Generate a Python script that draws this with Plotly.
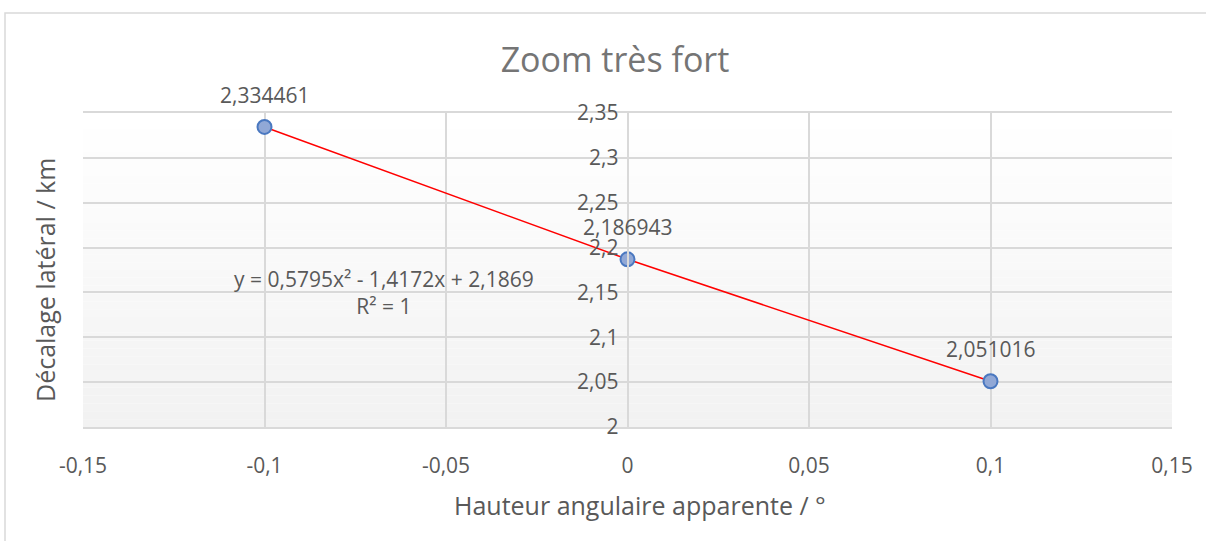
import plotly.graph_objects as go

# --- Data ---
hauteur = [-0.1, 0.0, 0.1]
decalage = [2.334461, 2.186943, 2.051016]
point_labels = ["2,334461", "2,186943", "2,051016"]

x_ticks = [-0.15, -0.1, -0.05, 0, 0.05, 0.1, 0.15]
x_tick_labels = ["-0,15", "-0,1", "-0,05", "0", "0,05", "0,1", "0,15"]
y_ticks = [2, 2.05, 2.1, 2.15, 2.2, 2.25, 2.3, 2.35]
y_tick_labels = ["2", "2,05", "2,1", "2,15", "2,2", "2,25", "2,3", "2,35"]

equation_text = "y = 0,5795x² - 1,4172x + 2,1869<br>R² = 1"

FONT = "Open Sans"
TEXT_COLOR = "#595959"
GRID_COLOR = "#D9D9D9"
FS = 21        # ticks, data labels, equation
FS_AXIS = 25   # axis titles

W, H = 1206, 541
L, R, T, B = 83, 34, 113, 114
plot_w = W - L - R
plot_h = H - T - B


def px_x(p):
    return (p - L) / plot_w


def px_y(p):
    return (H - B - p) / plot_h


fig = go.Figure()

# trendline (red) through the points
fig.add_trace(go.Scatter(x=hauteur, y=decalage, mode="lines",
                         line=dict(color="#FF0000", width=1.5),
                         hoverinfo="skip", showlegend=False))
# data points
fig.add_trace(go.Scatter(x=hauteur, y=decalage, mode="markers",
                         marker=dict(size=14, color="#91A8D6",
                                     line=dict(color="#4A78C0", width=2)),
                         showlegend=False))

# data labels above each point
for xv, yv, lab in zip(hauteur, decalage, point_labels):
    fig.add_annotation(x=xv, y=yv, text=lab, showarrow=False,
                       yshift=32, xanchor="center", yanchor="middle",
                       font=dict(family=FONT, size=FS, color=TEXT_COLOR))

# trendline equation
fig.add_annotation(xref="paper", yref="paper", x=px_x(384), y=px_y(292),
                   xanchor="center", yanchor="middle",
                   text=equation_text, showarrow=False, align="center",
                   font=dict(family=FONT, size=FS, color=TEXT_COLOR))

# axis titles
fig.add_annotation(xref="paper", yref="paper", x=px_x(640), y=px_y(505),
                   xanchor="center", yanchor="middle",
                   text="Hauteur angulaire apparente / °", showarrow=False,
                   font=dict(family=FONT, size=FS_AXIS, color=TEXT_COLOR))
fig.add_annotation(xref="paper", yref="paper", x=px_x(45), y=px_y(280),
                   xanchor="center", yanchor="middle",
                   text="Décalage latéral / km", showarrow=False, textangle=-90,
                   font=dict(family=FONT, size=FS_AXIS, color=TEXT_COLOR))

# gradient background of the plot area
n_bands = 40
for i in range(n_bands):
    t = i / (n_bands - 1)
    c = round(242 + (255 - 242) * t)
    fig.add_shape(type="rect", xref="x domain", yref="y domain",
                  x0=0, x1=1, y0=i / n_bands, y1=(i + 1) / n_bands,
                  fillcolor=f"rgb({c},{c},{c})", line=dict(width=0), layer="below")

# outer chart border
fig.add_shape(type="rect", xref="paper", yref="paper",
              x0=px_x(5), x1=px_x(W + 10), y0=px_y(H + 10), y1=px_y(13),
              line=dict(color=GRID_COLOR, width=1.5), fillcolor="rgba(0,0,0,0)")

fig.update_layout(
    width=W, height=H,
    margin=dict(l=L, r=R, t=T, b=B),
    paper_bgcolor="white",
    plot_bgcolor="rgba(0,0,0,0)",
    font=dict(family=FONT, color=TEXT_COLOR),
    title=dict(text="Zoom très fort", x=px_x(615), xref="paper", xanchor="center",
               y=1 - 60 / H, yanchor="middle",
               font=dict(family=FONT, size=34, color="#757575")),
    showlegend=False,
)

fig.update_xaxes(range=[-0.15, 0.15], tickvals=x_ticks, ticktext=x_tick_labels,
                 showgrid=True, gridcolor=GRID_COLOR, gridwidth=2,
                 zeroline=False, showline=True, mirror=True,
                 linecolor=GRID_COLOR, linewidth=2,
                 ticks="", ticklabelstandoff=19,
                 tickfont=dict(family=FONT, size=FS, color=TEXT_COLOR))
fig.update_yaxes(range=[2, 2.35], tickvals=y_ticks, ticktext=y_tick_labels,
                 showgrid=True, gridcolor=GRID_COLOR, gridwidth=2,
                 zeroline=False, showline=True, linecolor=GRID_COLOR, linewidth=1.5,
                 anchor="free", position=0.5, ticks="", ticklabelstandoff=4,
                 tickfont=dict(family=FONT, size=FS, color=TEXT_COLOR))

fig.write_html("out.html", config={"displayModeBar": False},
               post_script="document.body.style.margin='0';")
